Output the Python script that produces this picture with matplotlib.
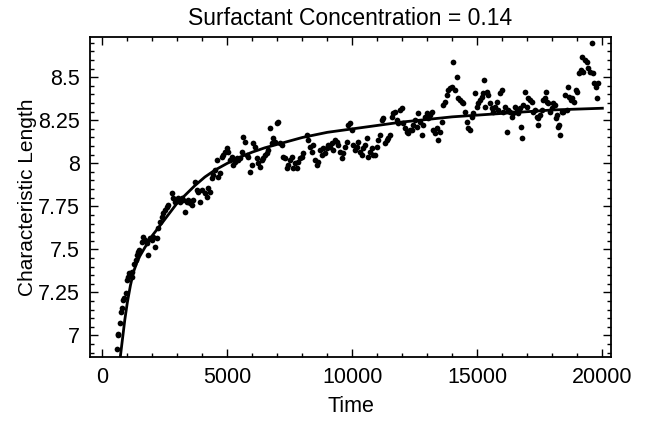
import matplotlib
matplotlib.use("Agg")
import matplotlib.pyplot as plt
from matplotlib.ticker import MultipleLocator, FuncFormatter

plt.rcParams['font.family'] = ['Liberation Sans', 'DejaVu Sans']

# Scatter data (Time, Characteristic Length)
time_pts = [
    576, 616, 640, 708, 748, 776, 840, 868, 948,
    1000, 1040, 1068, 1108, 1176, 1200, 1280, 1336, 1376, 1440, 1468,
    1576, 1640, 1708, 1776, 1840, 1908, 1976, 2040, 2108, 2176,
    2240, 2308, 2376, 2440, 2508, 2576, 2640,
    2776, 2840, 2908, 2976, 3040, 3108, 3176, 3240, 3308, 3376,
    3440, 3508, 3576, 3640, 3708, 3776, 3840, 3908,
    3976, 4108, 4176, 4240, 4308,
    4376, 4440, 4508, 4576, 4640, 4708,
    4776, 4840, 4908, 4976, 5040, 5108,
    5176, 5240, 5308, 5376, 5440, 5508,
    5576, 5640, 5708, 5776, 5840, 5908,
    5976, 6040, 6108, 6176, 6240, 6308, 6376,
    6440, 6508, 6576, 6640, 6708, 6776, 6840, 6908,
    6976, 7040, 7108, 7176, 7240, 7308, 7376,
    7440, 7508, 7576, 7640, 7708, 7776, 7840, 7908,
    7976, 8040,
    8176, 8240, 8308, 8376, 8440,
    8508, 8576, 8640, 8708, 8776, 8840,
    8908, 8976, 9040, 9108, 9176, 9240,
    9308, 9376, 9440, 9508, 9576, 9640, 9708, 9776,
    9840, 9908, 9976, 10040, 10108, 10176, 10240, 10308,
    10376, 10440, 10508, 10576, 10640, 10708, 10776, 10840, 10908, 10976,
    11040, 11108, 11176, 11240, 11308, 11376, 11440, 11508, 11576, 11640,
    11708, 11776, 11840, 11908, 11976, 12040, 12108, 12176, 12240, 12308,
    12376, 12440, 12508, 12576, 12640, 12708, 12776, 12840, 12908, 12976,
    13040, 13108, 13176, 13240, 13308, 13376, 13440, 13508, 13576, 13640, 13708,
    13776, 13840, 13908, 13976, 14016, 14108, 14176, 14240, 14308, 14376, 14440,
    14508, 14576, 14640, 14708, 14776, 14840, 14908, 14976, 15040, 15108,
    15176, 15240, 15268, 15308, 15376, 15440, 15508, 15576, 15640, 15708,
    15776, 15840, 15908, 15976, 16040, 16108, 16176, 16240, 16308, 16376, 16440, 16508,
    16576, 16640, 16708, 16730, 16770, 16840, 16908, 16976, 17040, 17108, 17176,
    17240, 17308, 17376, 17416, 17440, 17508, 17576, 17640, 17708, 17748, 17776,
    17840, 17908, 17976, 18040, 18108,
    18136, 18176, 18216, 18268, 18308, 18376, 18440, 18508, 18576, 18616, 18668,
    18736, 18800, 18868, 18936, 19000,
    19068, 19136, 19176, 19240, 19308, 19376, 19440, 19508, 19576, 19616, 19680,
    19748, 19788, 19840,
]
length_pts = [
    6.92, 7.00, 7.01, 7.073, 7.134, 7.157, 7.205, 7.219, 7.248,
    7.321, 7.341, 7.360, 7.351, 7.370, 7.341, 7.415, 7.438, 7.467, 7.486, 7.496,
    7.544, 7.573, 7.554, 7.535, 7.467, 7.564, 7.554, 7.573, 7.515, 7.564,
    7.622, 7.66, 7.69, 7.71, 7.728, 7.748, 7.757,
    7.826, 7.797, 7.777, 7.787, 7.797, 7.777, 7.797, 7.787, 7.719, 7.777,
    7.787, 7.767, 7.757, 7.787, 7.893, 7.845, 7.835, 7.777,
    7.845, 7.826, 7.806, 7.855, 7.835,
    7.913, 7.932, 7.961, 8.019, 7.922, 7.942,
    8.038, 8.048, 8.067, 8.087, 8.067, 8.019,
    8.038, 7.99, 8.009, 8.029, 8.019, 8.029,
    8.067, 8.155, 8.126, 8.048, 8.038, 7.951,
    7.99, 8.116, 8.097, 8.029, 8.0, 7.98, 8.019,
    8.029, 8.048, 8.058, 8.077, 8.203, 8.116, 8.145, 8.126,
    8.233, 8.242, 8.116, 8.106, 8.038, 8.029, 7.971,
    7.99, 8.019, 8.038, 7.971, 8.0, 7.971, 8.009, 8.029,
    8.038, 8.058,
    8.164, 8.135, 8.097, 8.067, 8.106,
    8.019, 7.99, 8.009, 8.077, 8.048, 8.087,
    8.058, 8.087, 8.106, 8.097, 8.116, 8.077,
    8.135, 8.126, 8.106, 8.067, 8.029, 8.058, 8.097, 8.126,
    8.223, 8.233, 8.194, 8.106, 8.077, 8.097, 8.126, 8.067,
    8.048, 8.087, 8.106, 8.145, 8.038, 8.067, 8.087, 8.048, 8.048, 8.097,
    8.135, 8.164, 8.252, 8.262, 8.116, 8.135, 8.145, 8.164, 8.271, 8.291,
    8.3, 8.252, 8.233, 8.31, 8.32, 8.233, 8.203, 8.184, 8.174, 8.194,
    8.194, 8.223, 8.252, 8.213, 8.291, 8.242, 8.164, 8.223, 8.271, 8.291,
    8.262, 8.281, 8.3, 8.194, 8.174, 8.203, 8.135, 8.184, 8.242, 8.339, 8.358,
    8.397, 8.426, 8.436, 8.445, 8.59, 8.426, 8.503, 8.378, 8.368, 8.358, 8.349,
    8.3, 8.242, 8.203, 8.194, 8.271, 8.291, 8.407, 8.329, 8.349, 8.368,
    8.387, 8.407, 8.484, 8.329, 8.416, 8.397, 8.349, 8.32, 8.3, 8.329,
    8.358, 8.31, 8.407, 8.426, 8.3, 8.329, 8.184, 8.31, 8.3, 8.271, 8.291, 8.329,
    8.31, 8.291, 8.32, 8.213, 8.145, 8.339, 8.416, 8.329, 8.378, 8.368, 8.358,
    8.3, 8.31, 8.271, 8.223, 8.262, 8.281, 8.31, 8.368, 8.378, 8.416, 8.358,
    8.349, 8.3, 8.32, 8.349, 8.339,
    8.262, 8.281, 8.213, 8.223, 8.164, 8.3, 8.3, 8.397, 8.31, 8.445, 8.387,
    8.368, 8.378, 8.358, 8.426, 8.416,
    8.523, 8.542, 8.62, 8.532, 8.6, 8.59, 8.552, 8.532, 8.697, 8.523, 8.465,
    8.445, 8.378, 8.465,
]

# Fitted curve, points
fit_time = [720, 800, 900, 1000, 1125, 1250, 1375, 1500, 1700, 2000, 2400,
            3000, 3700, 4100, 4500, 5000, 5500, 6000, 6500, 7000, 8000,
            9000, 10000, 11000, 12000, 13000, 14000, 15000, 16000, 17000,
            18000, 19000, 20000]
fit_length = [6.874, 6.97, 7.09, 7.19, 7.29, 7.37, 7.42, 7.46, 7.51, 7.58, 7.655,
              7.77, 7.87, 7.92, 7.96, 8.0, 8.035, 8.065, 8.09, 8.11, 8.15,
              8.18, 8.20, 8.22, 8.24, 8.255, 8.27, 8.28, 8.29, 8.30,
              8.31, 8.315, 8.32]

title_text = "Surfactant Concentration = 0.14"
x_label = "Time"
y_label = "Characteristic Length"

fig = plt.figure(figsize=(6.46, 4.23), dpi=100)
ax = fig.add_axes([0.139, 0.156, 0.807, 0.7565])

ax.scatter(time_pts, length_pts, s=17, color='black', linewidths=0, zorder=3)
ax.plot(fit_time, fit_length, color='black', lw=2.0, zorder=4)

ax.set_xlim(-500, 20350)
ax.set_ylim(6.874, 8.734)

ax.xaxis.set_major_locator(MultipleLocator(5000))
ax.xaxis.set_minor_locator(MultipleLocator(1000))
ax.yaxis.set_major_locator(MultipleLocator(0.25))
ax.yaxis.set_minor_locator(MultipleLocator(0.05))
ax.yaxis.set_major_formatter(FuncFormatter(lambda v, p: f"{v:g}"))

ax.tick_params(which='both', direction='in', top=True, right=True, width=1.0)
ax.tick_params(which='major', length=6, labelsize=15.5, pad=7)
ax.tick_params(which='minor', length=3)
for sp in ax.spines.values():
    sp.set_linewidth(1.3)

ax.set_title(title_text, fontsize=16.5, pad=9)
ax.set_xlabel(x_label, fontsize=15.5, labelpad=6)
ax.set_ylabel(y_label, fontsize=15, labelpad=1)

fig.savefig("out.png", dpi=100)
